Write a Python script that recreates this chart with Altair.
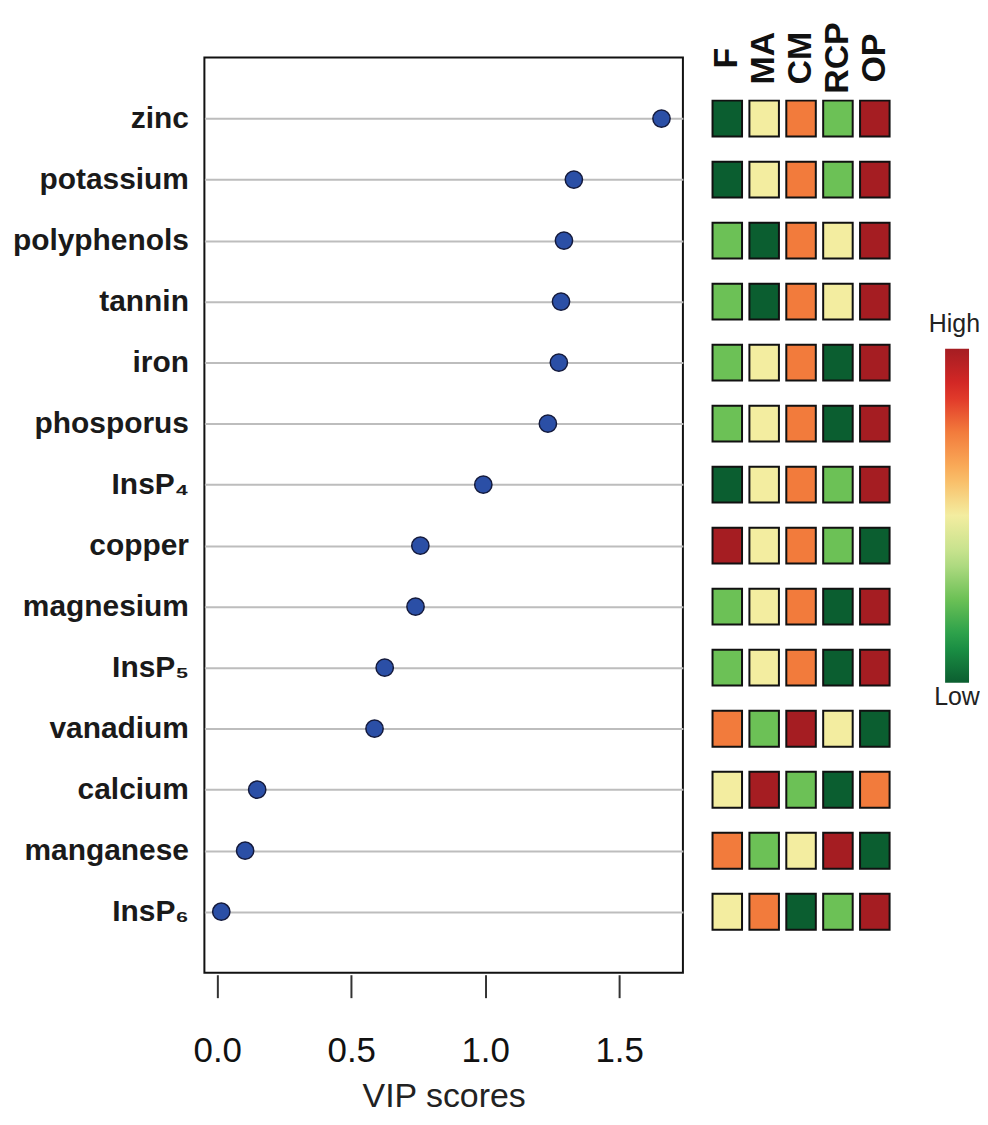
import altair as alt
import pandas as pd

# ---------------- data ----------------
compounds = ["zinc", "potassium", "polyphenols", "tannin", "iron", "phosporus",
             "InsP₄", "copper", "magnesium", "InsP₅", "vanadium", "calcium",
             "manganese", "InsP₆"]
vip_scores = [1.658, 1.331, 1.294, 1.283, 1.275, 1.234, 0.993, 0.758, 0.740,
              0.625, 0.587, 0.149, 0.104, 0.015]

groups = ["F", "MA", "CM", "RCP", "OP"]
level_F = [1, 1, 2, 2, 2, 2, 1, 5, 2, 2, 4, 3, 4, 3]
level_MA = [3, 3, 1, 1, 3, 3, 3, 3, 3, 3, 2, 5, 2, 4]
level_CM = [4, 4, 4, 4, 4, 4, 4, 4, 4, 4, 5, 2, 3, 1]
level_RCP = [2, 2, 3, 3, 1, 1, 2, 2, 1, 1, 3, 1, 5, 2]
level_OP = [5, 5, 5, 5, 5, 5, 5, 1, 5, 5, 1, 4, 1, 5]

x_ticks = [0.0, 0.5, 1.0, 1.5]
legend_low = [1]

# ---------------- tables ----------------
vip_df = pd.DataFrame({"compound": compounds, "vip": vip_scores})
heat_rows = []
for g, lv in zip(groups, [level_F, level_MA, level_CM, level_RCP, level_OP]):
    for c, v in zip(compounds, lv):
        heat_rows.append({"compound": c, "group": g, "level": v})
heat_df = pd.DataFrame(heat_rows)

FONT = "Liberation Sans"

y_scale = alt.Scale(type="point", padding=1)

# ---------------- dot plot ----------------
dots = alt.Chart(vip_df).mark_circle(
    size=300, color="#2b4fa6", stroke="#141a3c", strokeWidth=1.5, opacity=1
).encode(
    x=alt.X("vip:Q", title="VIP scores",
            scale=alt.Scale(domain=[-0.048, 1.738], nice=False, zero=False),
            axis=alt.Axis(values=x_ticks, format=".1f", grid=False, domain=False,
                          tickSize=23, tickWidth=2, tickColor="#333333", offset=2,
                          labelFont=FONT, labelFontSize=35, labelColor="#111111",
                          labelPadding=36, titleFont=FONT, titleFontSize=34,
                          titleFontWeight="normal", titleColor="#222222",
                          titlePadding=11)),
    y=alt.Y("compound:N", sort=compounds, scale=y_scale, title=None,
            axis=alt.Axis(grid=True, gridColor="#bdbdbd", gridWidth=2, ticks=False,
                          domain=False, labelFont=FONT, labelFontSize=30,
                          labelFontWeight="bold", labelColor="#1a1a1a",
                          labelPadding=16, labelLimit=400))
).properties(
    width=480, height=918,
    view=alt.ViewBackground(stroke="#111111", strokeWidth=2)
)

# ---------------- heatmap ----------------
color_scale = alt.Scale(
    domain=[1, 1.5, 2, 2.5, 3, 3.5, 4, 4.5, 5],
    range=["#0b5e30", "#1e9a48", "#6cc156", "#bfe08a", "#f3eda0",
           "#fbb55e", "#f27b3c", "#dd2a26", "#a51d22"],
    interpolate="rgb",
)

heat = alt.Chart(heat_df).mark_rect(
    height=36, stroke="#111111", strokeWidth=2
).encode(
    x=alt.X("group:N", sort=groups, title=None,
            scale=alt.Scale(paddingInner=0.2, paddingOuter=0.1),
            axis=alt.Axis(orient="top", labelAngle=270, labelAlign="center",
                          labelBaseline="middle", domain=False, ticks=False,
                          labelPadding=0, labelFont=FONT, labelFontSize=34,
                          labelFontWeight="bold", labelColor="#111111")),
    y=alt.Y("compound:N", sort=compounds, scale=y_scale, axis=None),
    fill=alt.Fill("level:Q", scale=color_scale,
                  legend=alt.Legend(orient="none", legendX=727, legendY=255,
                                    direction="vertical", gradientLength=335,
                                    gradientThickness=24, gradientStrokeWidth=0,
                                    values=legend_low,
                                    labelExpr="['', '', 'Low']",
                                    labelBaseline="middle", labelOverlap=False,
                                    labelOffset={"expr": "-35"}, labelFont=FONT,
                                    labelFontSize=25, labelColor="#222222",
                                    title="High", titleFont=FONT, titleFontSize=25,
                                    titleFontWeight="normal", titleColor="#222222",
                                    titleAnchor="end", titleAlign="right",
                                    titlePadding=12, padding=0)),
).properties(width=185, height=918)

chart = alt.hconcat(dots, heat, spacing=26, bounds="flush").properties(
    padding={"left": 3, "top": 12, "right": 0, "bottom": 0}
).configure_view(stroke=None)

chart.save("out.html", embed_options={"renderer": "svg", "actions": False})
